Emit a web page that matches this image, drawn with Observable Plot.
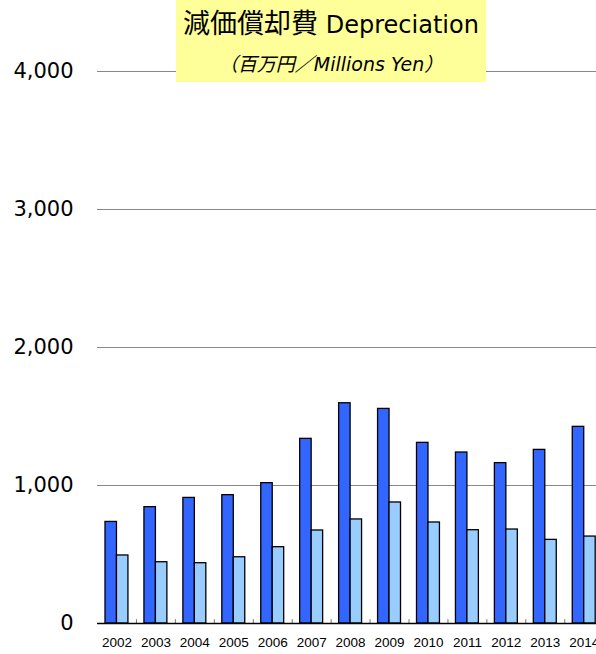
<!DOCTYPE html>
<html>
<head>
<meta charset="utf-8">
<script src="https://cdn.jsdelivr.net/npm/d3@7"></script>
<script src="https://cdn.jsdelivr.net/npm/@observablehq/plot@0.6"></script>
<style>
  html, body { margin: 0; padding: 0; background: #fff; }
  #wrap { position: relative; width: 596px; height: 654px; overflow: hidden; }
  #title {
    position: absolute; left: 176px; top: 0px; width: 310px; height: 82px;
    background: #FFFF99; text-align: center; color: #000;
  }
  #t1 { position: absolute; left: 0; right: 0; top: 2px; white-space: nowrap; }
  #t1 .cjk { font-family: "Noto Sans CJK JP"; font-size: 27px; }
  #t1 .lat { font-family: "DejaVu Sans"; font-size: 24px; }
  #t2 { position: absolute; left: 0; right: 0; top: 49px; white-space: nowrap;
        font-family: "DejaVu Sans", "Noto Sans CJK JP"; font-style: italic; font-size: 19px; }
</style>
</head>
<body>
<div id="wrap">
  <div id="chart"></div>
  <div id="title">
    <div id="t1"><span class="cjk">減価償却費</span><span class="lat"> Depreciation</span></div>
    <div id="t2">（百万円／Millions Yen）</div>
  </div>
</div>
<script>
const years = ["2002","2003","2004","2005","2006","2007","2008","2009","2010","2011","2012","2013","2014"];
const depreciationA = [736, 843, 910, 930, 1017, 1338, 1596, 1555, 1309, 1239, 1162, 1258, 1425];
const depreciationB = [493, 444, 437, 480, 553, 674, 754, 877, 732, 676, 681, 606, 630];
const yTicks = [0, 1000, 2000, 3000, 4000];
const gridValues = [1000, 2000, 3000, 4000];

const rowsA = years.map((y, i) => ({year: y, value: depreciationA[i]}));
const rowsB = years.map((y, i) => ({year: y, value: depreciationB[i]}));

const W = 596, H = 654;
const xLeft = 97, xRight = 603.2;
const band = (xRight - xLeft) / years.length;
const half = band / 2;
const edge = 8;

const chart = Plot.plot({
  width: W,
  height: H,
  marginLeft: xLeft,
  marginRight: 0,
  marginTop: 71,
  marginBottom: 31,
  style: {fontFamily: "DejaVu Sans", background: "transparent", overflow: "visible"},
  x: {domain: years, padding: 0, round: false, range: [xLeft, xRight]},
  y: {domain: [0, 4000]},
  marks: [
    Plot.ruleY(gridValues, {stroke: "#888", strokeWidth: 1}),
    Plot.barY(rowsA, {x: "year", y: "value", fill: "#3366FF", stroke: "#000", strokeWidth: 1.3,
      insetLeft: edge, insetRight: half}),
    Plot.barY(rowsB, {x: "year", y: "value", fill: "#99CCFF", stroke: "#000", strokeWidth: 1.3,
      insetLeft: half, insetRight: edge}),
    Plot.ruleX(years.slice(1), {x: d => d, y1: 0, y2: 28, dx: -half, stroke: "#777"}),
    Plot.ruleY([0], {stroke: "#000", strokeWidth: 1.3}),
    Plot.axisY({ticks: yTicks, tickSize: 0, tickPadding: 24, tickFormat: d3.format(","),
      fontSize: 21, fontFamily: "DejaVu Sans", fill: "#000", label: null}),
    Plot.axisX({tickSize: 0, tickPadding: 14, fontSize: 13.5, fontFamily: "Liberation Sans",
      fill: "#000", label: null})
  ]
});
document.getElementById("chart").appendChild(chart);
</script>
</body>
</html>
